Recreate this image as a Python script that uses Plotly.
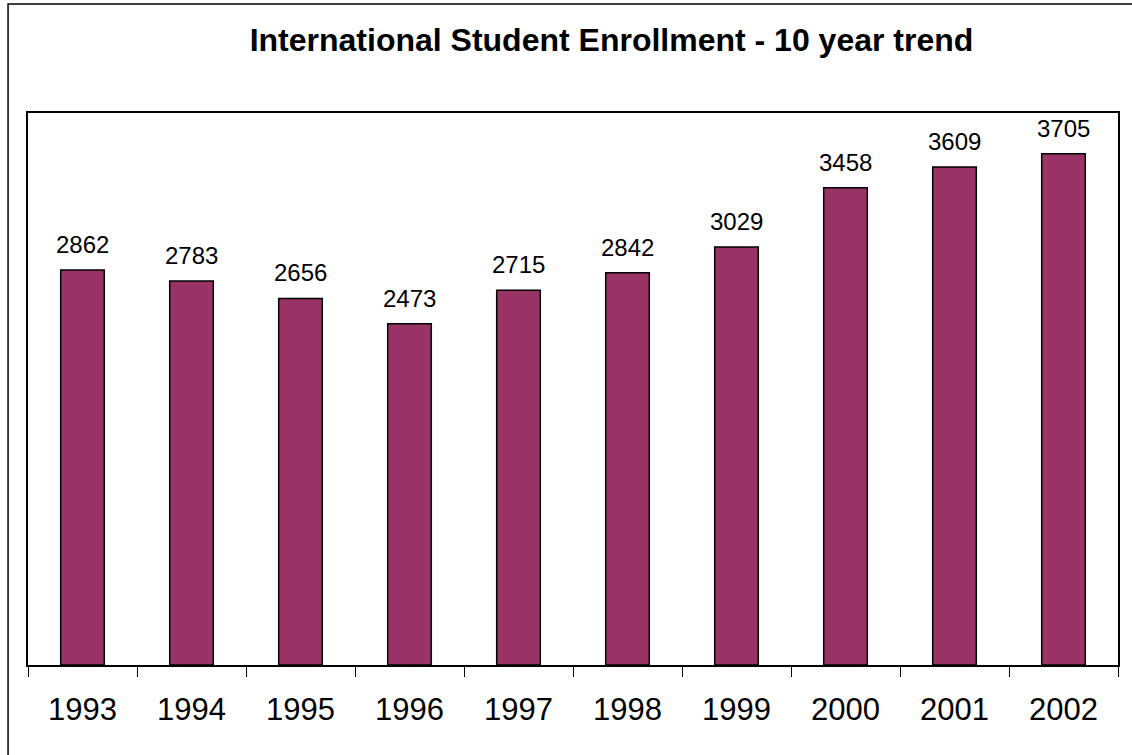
import plotly.graph_objects as go

years = ["1993", "1994", "1995", "1996", "1997", "1998", "1999", "2000", "2001", "2002"]
enrollment = [2862, 2783, 2656, 2473, 2715, 2842, 3029, 3458, 3609, 3705]
title_text = "International Student Enrollment - 10 year trend"

fig = go.Figure()
fig.add_trace(go.Bar(
    x=years, y=enrollment, width=0.4,
    marker=dict(color="#993366", line=dict(color="black", width=1.5)),
    hoverinfo="x+y",
))

for i, v in enumerate(enrollment):
    fig.add_annotation(x=i, y=v, text=str(v), showarrow=False,
                       yanchor="bottom", yshift=10,
                       font=dict(family="Liberation Sans, Arial", size=24, color="black"))

fig.add_shape(type="rect", xref="paper", yref="paper",
              x0=-0.0183, x1=1.05, y0=-0.3, y1=1.1975,
              line=dict(color="black", width=1.5), layer="below")

fig.update_layout(
    width=1132, height=755,
    margin=dict(l=28, r=14, t=113, b=90, autoexpand=False),
    paper_bgcolor="white", plot_bgcolor="white",
    title=dict(text="<b>" + title_text + "</b>", x=0.5402, xref="container", xanchor="center",
               y=0.947, yanchor="middle",
               font=dict(family="Liberation Sans, Arial", size=32, color="black")),
    showlegend=False,
    bargap=0.6,
)
fig.update_xaxes(type="category", range=[-0.5, 9.5], autorange=False, automargin=False,
                 tickson="boundaries", ticks="outside", ticklen=10, tickangle=0,
                 tickwidth=1.2, tickcolor="black", showline=True, linecolor="black", linewidth=2,
                 mirror=True, showgrid=False, ticklabelstandoff=16,
                 tickfont=dict(family="Liberation Sans, Arial", size=31, color="black"))
fig.update_yaxes(range=[0, 4000], automargin=False, showline=True, linecolor="black", linewidth=2,
                 mirror=True, showgrid=False, showticklabels=False, ticks="", zeroline=False)

fig.write_html("out.html", config={"displayModeBar": False},
               post_script="document.body.style.margin='0';")
